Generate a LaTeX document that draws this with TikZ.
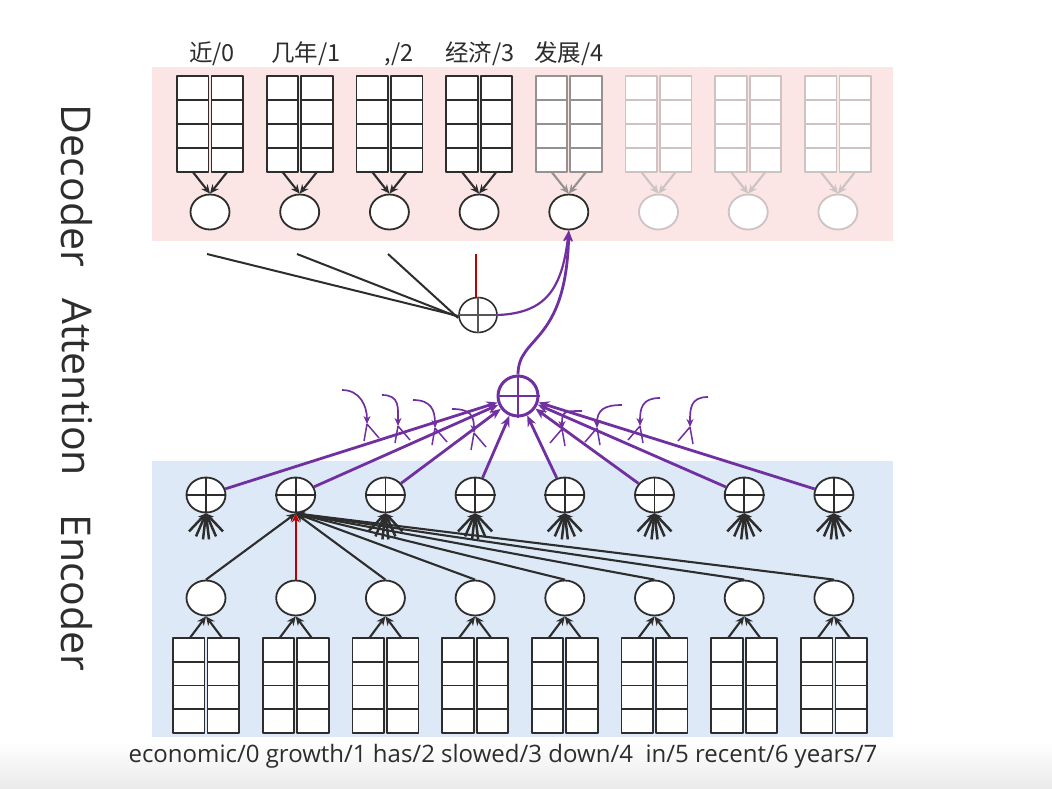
\documentclass[tikz,border=0pt]{standalone}
\usepackage{fontspec}
\setmainfont{Open Sans}
\newfontfamily\cjk{Noto Sans CJK SC}
\usetikzlibrary{arrows.meta,calc,shapes.geometric}
\definecolor{pinkbg}{RGB}{251,229,229}
\definecolor{bluebg}{RGB}{221,233,246}
\definecolor{purp}{RGB}{112,48,160}
\definecolor{redl}{RGB}{192,0,0}
\definecolor{ink}{RGB}{45,45,45}
\definecolor{midg}{RGB}{150,145,145}
\definecolor{lightg}{RGB}{205,195,195}
\begin{document}
\begin{tikzpicture}[x=1pt,y=-1pt,line join=round,
  cellbox/.style={draw=#1, fill=white, line width=1.8pt},
  blk/.style={inner sep=0pt, minimum width=67pt, minimum height=96pt},
  st/.style={ellipse, draw=#1, fill=white, line width=1.8pt, minimum width=39pt, minimum height=35pt, inner sep=0pt},
  lnk/.style={draw=#1, line width=2.1pt, -{Stealth[length=9pt,width=8pt]}},
  fanl/.style={draw=ink, line width=2.5pt, -{Stealth[length=8pt,width=7pt]}},
  attl/.style={draw=purp, line width=2.8pt, -{Stealth[length=11pt,width=9pt]}},
  wt/.style={draw=purp, line width=1.7pt, -{Stealth[length=8pt,width=7pt]}},
  wleg/.style={draw=purp, line width=1.5pt},
  side/.style={rotate=-90, font=\fontsize{41}{46}\selectfont, text=ink},
  lab/.style={font=\cjk\fontsize{23.5}{27}\selectfont, text=ink},
]
\useasboundingbox (0,0) rectangle (1052,788);
\fill[white] (0,0) rectangle (1052,788);
\shade[top color=white, bottom color=black!8] (0,741) rectangle (1052,788);
\fill[pinkbg] (152,67) rectangle (893,241);
\fill[bluebg] (152,461) rectangle (893,737);

% side labels
\node[side] (ldec) at (77,186) {Decoder};
\node[side] (latt) at (77,387) {Attention};
\node[side] (lenc) at (77,593) {Encoder};

% top labels
\node[lab] (t0) at (212,54) {近/0};
\node[lab] (t1) at (306,54) {几年/1};
\node[lab] (t2) at (399,54) {,/2};
\node[lab] (t3) at (480,54) {经济/3};
\node[lab] (t4) at (569,54) {发展/4};

% bottom label
\node[font=\fontsize{24}{28}\selectfont, text=ink] (bot) at (503,756) {economic/0 growth/1 has/2 slowed/3 down/4\ \ in/5 recent/6 years/7};

% decoder
\foreach \i/\bc/\cc in {0/ink/ink,1/ink/ink,2/ink/ink,3/ink/ink,4/midg/ink,5/lightg/lightg,6/lightg/lightg,7/lightg/lightg} {
  \pgfmathsetmacro\cx{210+89.7*\i}
  \node[blk] (dblk\i) at (\cx,124) {};
  \foreach \r in {0,...,3} {
    \draw[cellbox=\bc] (\cx-33,76+24*\r) rectangle (\cx-1.5,100+24*\r);
    \draw[cellbox=\bc] (\cx+1.5,76+24*\r) rectangle (\cx+33,100+24*\r);
  }
  \node[st=\cc] (dec\i) at (\cx,212) {};
  \draw[lnk=\bc] ([xshift=-17pt]dblk\i.south) -- (dec\i.north);
  \draw[lnk=\bc] ([xshift=17pt]dblk\i.south) -- (dec\i.north);
}

% decoder attention sum
\node[ellipse, draw=ink, fill=white, line width=1.6pt, minimum width=38pt, minimum height=35pt, inner sep=0pt] (att) at (478,315) {};
\draw[draw=ink!80, line width=1.6pt] (att.north) -- (att.south) (att.west) -- (att.east);
\coordinate (h0) at (207,254);
\coordinate (h1) at (297,254);
\coordinate (h2) at (388,254);
\coordinate (h3) at (476,254);
\draw[ink, line width=2pt] (h0) -- ([yshift=-1pt]att.west);
\draw[ink, line width=2pt] (h1) -- ([yshift=-2pt]att.west);
\draw[ink, line width=2pt] (h2) -- ([yshift=-3pt]att.west);
\draw[redl, line width=2pt] (h3) -- ([xshift=-2pt]att.north);
\draw[attl, line width=2.2pt] (att.east) .. controls (545,313) and (562,290) .. (dec4.south);

% encoder
\foreach \i in {0,...,7} {
  \pgfmathsetmacro\cx{206+89.7*\i}
  \node[blk, minimum height=95pt] (eblk\i) at (\cx,685.5) {};
  \foreach \r in {0,...,3} {
    \draw[cellbox=ink] (\cx-33,638+23.75*\r) rectangle (\cx-1.5,661.75+23.75*\r);
    \draw[cellbox=ink] (\cx+1.5,638+23.75*\r) rectangle (\cx+33,661.75+23.75*\r);
  }
  \node[st=ink] (enc\i) at (\cx,598) {};
  \node[st=ink] (encp\i) at (\cx,495) {};
  \draw[ink, line width=1.8pt] (encp\i.north) -- (encp\i.south) (encp\i.west) -- (encp\i.east);
  \draw[lnk=ink] ([xshift=-16pt]eblk\i.north) -- (enc\i.south);
  \draw[lnk=ink] ([xshift=16pt]eblk\i.north) -- (enc\i.south);
}
% fans
\foreach \i in {0,2,3,4,5,6,7} {
  \foreach \d/\h in {-17/18,-10/23,-3/26,3/26,10/23,17/18}
    \draw[fanl] ($(encp\i.south)+(\d,\h)$) -- (encp\i.south);
}
% growth context lines
\foreach \j in {0,2,3,4,5,6,7}
  \draw[lnk=ink] (enc\j.north) -- (encp1.south);
\draw[lnk=redl] (enc1.north) -- (encp1.south);

% big attention sum
\node[ellipse, draw=purp, fill=white, line width=3pt, minimum width=40pt, minimum height=40pt, inner sep=0pt] (big) at (518,396) {};
\draw[purp, line width=2.6pt] (big.north) -- (big.south) (big.west) -- (big.east);
\foreach \i in {0,...,7}
  \draw[attl] (encp\i) -- (big);
\draw[attl] (big.north) .. controls (518,335) and (566,345) .. (dec4.south);

% weight arrows (left)
\foreach \sx/\sy/\tx/\ty in {342/390/367/424, 382/395/398/426, 413/400/435/428, 452/409/474/433} {
  \draw[wt] (\sx,\sy) .. controls (\sx+18,\sy) and (\tx,\ty-18) .. (\tx,\ty);
  \draw[wleg] (\tx,\ty) -- ++(-3,17) (\tx,\ty) -- ++(12,14);
}
% weight arrows (right)
\foreach \sx/\sy/\tx/\ty in {582/411/562/429, 622/405/597/428, 660/398/640/426, 708/397/690/427} {
  \draw[wt] (\sx,\sy) .. controls (\sx-18,\sy) and (\tx,\ty-18) .. (\tx,\ty);
  \draw[wleg] (\tx,\ty) -- ++(3,17) (\tx,\ty) -- ++(-12,14);
}
\end{tikzpicture}
\end{document}
